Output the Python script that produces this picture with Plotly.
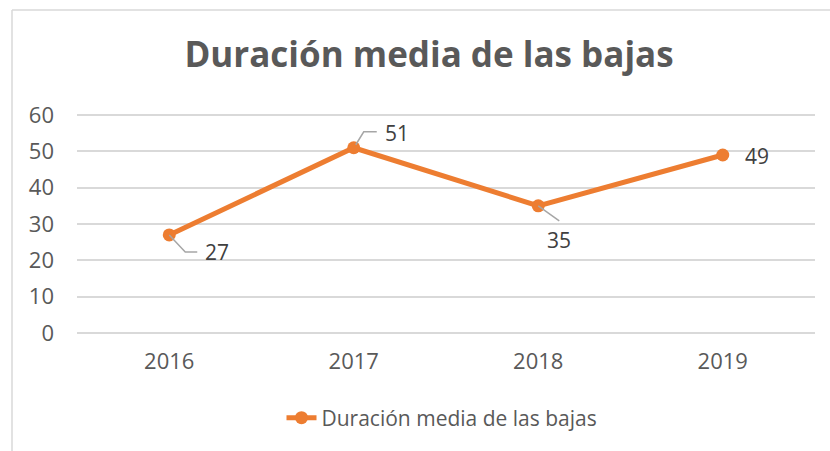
import plotly.graph_objects as go

# Average sick-leave duration per year
years = ["2016", "2017", "2018", "2019"]
duracion = [27, 51, 35, 49]
y_ticks = [0, 10, 20, 30, 40, 50, 60]

serie = "Duración media de las bajas"
naranja = "#ED7D31"
gris_texto = "#595959"
gris_etiqueta = "#404040"
gris_rejilla = "#D9D9D9"
gris_guia = "#A6A6A6"
fuente = "Open Sans"

W, H = 830, 451
ML, MR, MT, MB = 77, 15, 114, 117
pw = W - ML - MR
ph = H - MT - MB
Y_RANGE = [-0.3, 60.3]

fig = go.Figure()
fig.add_trace(go.Scatter(
    x=years, y=duracion, name=serie, mode="lines+markers",
    line=dict(color=naranja, width=5),
    marker=dict(color=naranja, size=13),
    showlegend=True,
))

# Data labels offset from each point (pixels), with leader lines for some
label_offsets = [(48, -17), (43, 15), (21, -34), (34, -1)]
leaders = [
    "M0,0 L16,-17 L28,-17",
    "M2,3 L10,16 L23,16",
    "M0,0 L21,-15",
    None,
]
annotations = []
shapes = []
for i, (v, (dx, dy), path) in enumerate(zip(duracion, label_offsets, leaders)):
    annotations.append(dict(
        x=i, y=v, xref="x", yref="y", text=str(v), showarrow=False,
        xshift=dx, yshift=dy, font=dict(family=fuente, size=21, color=gris_etiqueta),
    ))
    if path:
        shapes.append(dict(
            type="path", xref="x", yref="y", xsizemode="pixel", ysizemode="pixel",
            xanchor=i, yanchor=v, path=path,
            line=dict(color=gris_guia, width=1.5),
        ))

# Chart-area border (left and top edges)
def px_x(p):
    return (p - ML) / pw

def px_y(p):
    return (H - MB - p) / ph

shapes.append(dict(type="line", xref="paper", yref="paper",
                   x0=px_x(12), x1=px_x(12), y0=px_y(10), y1=px_y(460),
                   line=dict(color=gris_rejilla, width=1.5)))
shapes.append(dict(type="line", xref="paper", yref="paper",
                   x0=px_x(12), x1=px_x(840), y0=px_y(10), y1=px_y(10),
                   line=dict(color=gris_rejilla, width=1.5)))

fig.update_layout(
    width=W, height=H,
    margin=dict(l=ML, r=MR, t=MT, b=MB),
    paper_bgcolor="white", plot_bgcolor="white",
    title=dict(text="<b>" + serie + "</b>", xref="container", x=429 / W,
               xanchor="center", yref="container", y=1 - 55 / H, yanchor="middle",
               font=dict(family=fuente, size=35, color=gris_texto)),
    xaxis=dict(
        type="category", range=[-0.5, 3.5], showgrid=False, zeroline=False,
        showline=False, ticks="", ticklabelstandoff=12,
        tickfont=dict(family=fuente, size=22, color=gris_texto),
    ),
    yaxis=dict(
        range=Y_RANGE, tickvals=y_ticks, showgrid=True, gridcolor=gris_rejilla,
        gridwidth=1.5, zeroline=False, showline=False, ticks="",
        ticklabelstandoff=22,
        tickfont=dict(family=fuente, size=22, color=gris_texto),
    ),
    legend=dict(orientation="h", x=px_x(442), xanchor="center",
                y=px_y(418), yanchor="middle",
                font=dict(family=fuente, size=21, color=gris_texto)),
    annotations=annotations,
    shapes=shapes,
)

fig.write_html("out.html")
